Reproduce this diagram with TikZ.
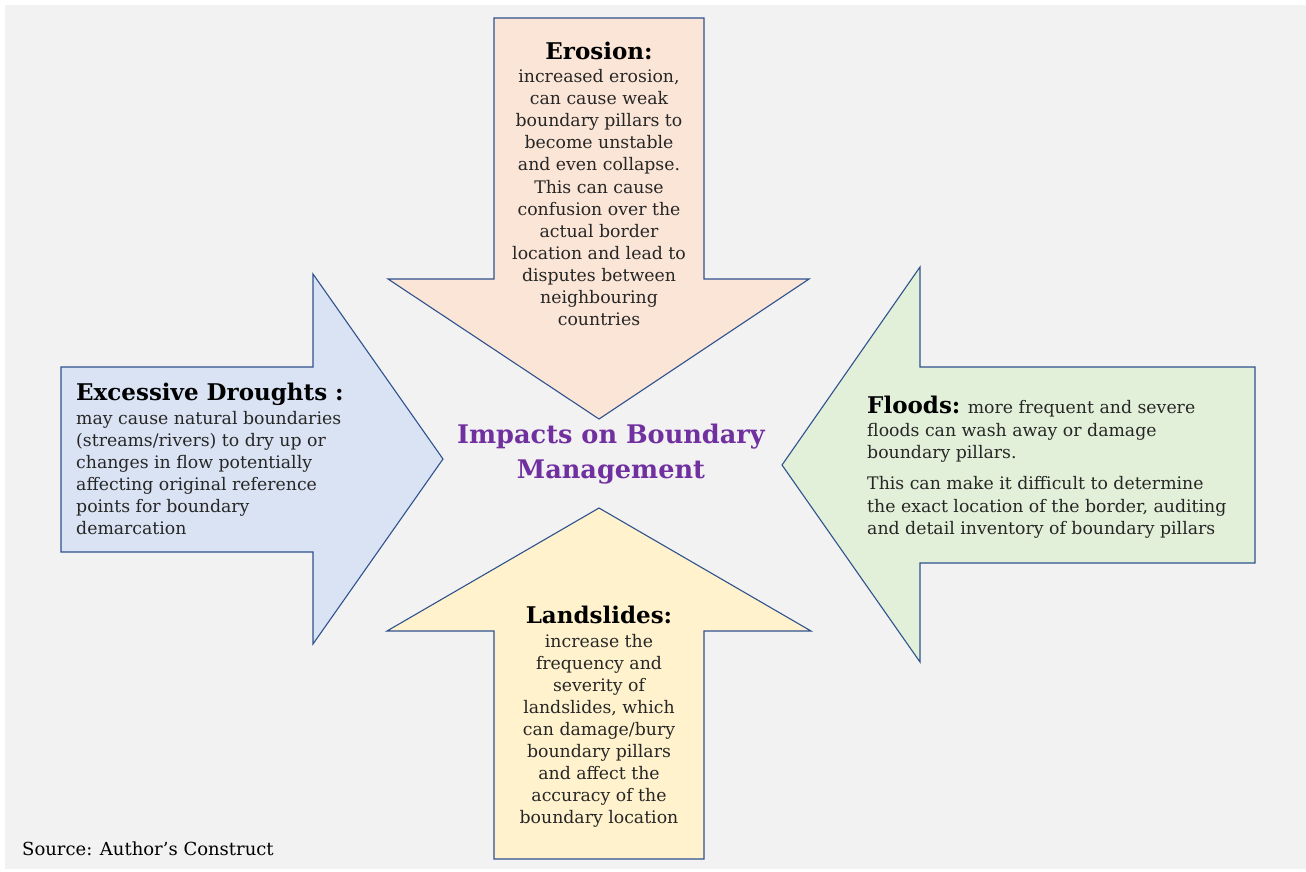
\documentclass[tikz,border=0pt]{standalone}
\usepackage{fontspec}
\setmainfont{DejaVu Serif}
\definecolor{bggray}{HTML}{F2F2F2}
\definecolor{arrowline}{HTML}{2F528F}
\definecolor{peach}{HTML}{FBE5D6}
\definecolor{lblue}{HTML}{DAE3F3}
\definecolor{lgreen}{HTML}{E2F0D9}
\definecolor{lyellow}{HTML}{FFF2CC}
\definecolor{bodytext}{HTML}{262626}
\definecolor{titlepurple}{HTML}{7030A0}
\begin{document}
\begin{tikzpicture}[x=1pt,y=-1pt,
  arrowshape/.style={draw=arrowline, line width=1.1pt, line join=miter},
  bodyc/.style={anchor=base, inner sep=0, font=\fontsize{17.3}{22}\selectfont, text=bodytext},
  bodyl/.style={anchor=base west, inner sep=0, font=\fontsize{17.3}{22}\selectfont, text=bodytext},
  headc/.style={anchor=base, inner sep=0, font=\fontsize{23}{26}\selectfont\bfseries, text=black},
  headl/.style={anchor=base west, inner sep=0, font=\fontsize{23}{26}\selectfont\bfseries, text=black},
  titlestyle/.style={anchor=base, inner sep=0, font=\fontsize{25.6}{34}\selectfont\bfseries, text=titlepurple}]
\useasboundingbox (0,0) rectangle (1306,872);
\fill[bggray] (5,5) rectangle (1306,869);
% arrows
\draw[arrowshape, fill=peach] (494,18) -- (704,18) -- (704,279) -- (809,279) -- (599,419) -- (388,279) -- (494,279) -- cycle;
\draw[arrowshape, fill=lblue] (61,367) -- (313,367) -- (313,274) -- (443,459) -- (313,644) -- (313,552) -- (61,552) -- cycle;
\draw[arrowshape, fill=lgreen] (1255,367) -- (920,367) -- (920,267) -- (782,465) -- (920,662) -- (920,563) -- (1255,563) -- cycle;
\draw[arrowshape, fill=lyellow] (494,859) -- (704,859) -- (704,631) -- (811,631) -- (599,508) -- (387,631) -- (494,631) -- cycle;
% erosion
\node[headc] (erohead) at (599,60) {Erosion:};
\foreach \t [count=\i from 0] in {{increased erosion,},{can cause weak},{boundary pillars to},{become unstable},{and even collapse.},{This can cause},{confusion over the},{actual border},{location and lead to},{disputes between},{neighbouring},{countries}}
  \node[bodyc] (ero\i) at (599,83+22*\i) {\t};
% droughts
\node[headl] (drohead) at (76,400) {Excessive Droughts :};
\foreach \t [count=\i from 0] in {{may cause natural boundaries},{(streams/rivers) to dry up or},{changes in flow potentially},{affecting original reference},{points for boundary},{demarcation}}
  \node[bodyl] (dro\i) at (76,424+22*\i) {\t};
% floods
\node[bodyl] (flo0) at (867,413) {{\fontsize{23}{26}\selectfont\bfseries\color{black}Floods:} more frequent and severe};
\node[bodyl] (flo1) at (867,436) {floods can wash away or damage};
\node[bodyl] (flo2) at (867,458) {boundary pillars.};
\node[bodyl] (flo3) at (867,489) {This can make it difficult to determine};
\node[bodyl] (flo4) at (867,512) {the exact location of the border, auditing};
\node[bodyl] (flo5) at (867,534) {and detail inventory of boundary pillars};
% landslides
\node[headc] (lanhead) at (599,623) {Landslides:};
\foreach \t [count=\i from 0] in {{increase the},{frequency and},{severity of},{landslides, which},{can damage/bury},{boundary pillars},{and affect the},{accuracy of the},{boundary location}}
  \node[bodyc] (lan\i) at (599,647+22*\i) {\t};
% title
\node[titlestyle] (title1) at (611,443) {Impacts on Boundary};
\node[titlestyle] (title2) at (611,478) {Management};
% source
\node[anchor=base west, inner sep=0, font=\fontsize{18}{22}\selectfont, text=black] (source) at (22,855) {Source: Author’s Construct};
\end{tikzpicture}
\end{document}
